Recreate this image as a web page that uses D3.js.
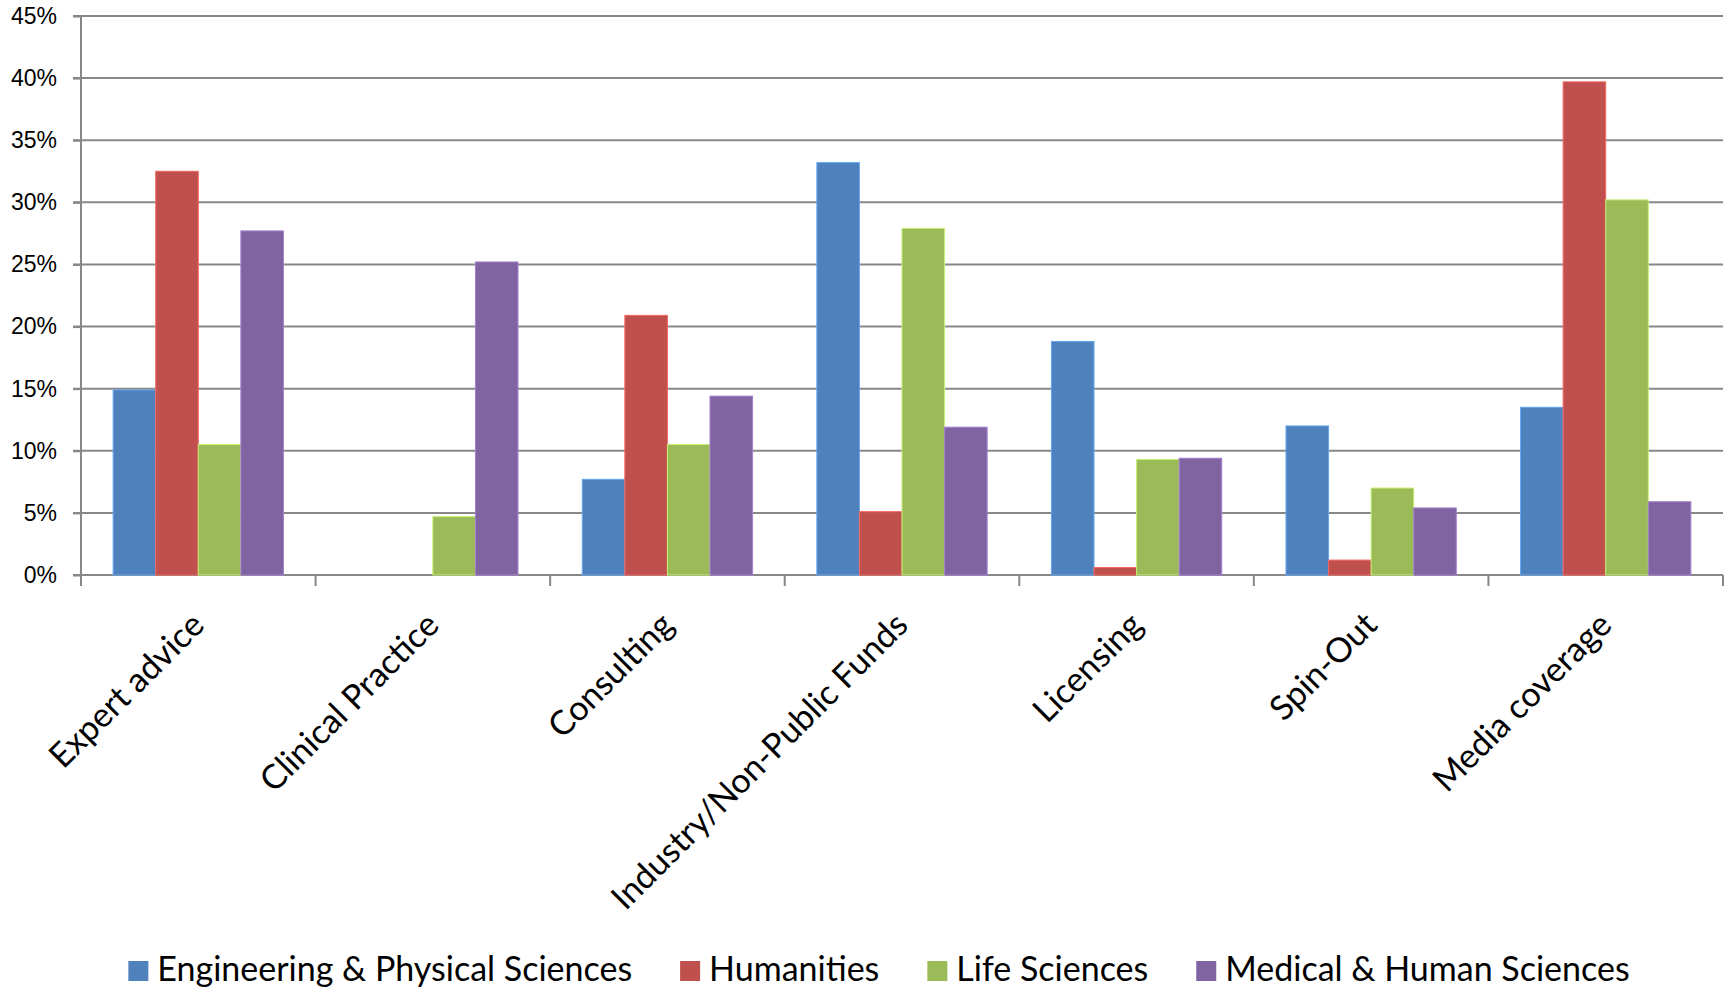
<!DOCTYPE html>
<html>
<head>
<meta charset="utf-8">
<script src="https://cdn.jsdelivr.net/npm/d3@7/dist/d3.min.js"></script>
<style>
  body { margin: 0; background: #fff; }
  svg { display: block; font-family: Lato, "Open Sans", sans-serif; }
</style>
</head>
<body>
<div id="chart"></div>
<script>
// ---- data (shares of respondents, %) ----
const categories = ["Expert advice", "Clinical Practice", "Consulting", "Industry/Non-Public Funds",
                    "Licensing", "Spin-Out", "Media coverage"];
const seriesNames = ["Engineering & Physical Sciences", "Humanities", "Life Sciences", "Medical & Human Sciences"];
const engineering = [14.9, 0, 7.7, 33.2, 18.8, 12.0, 13.5];
const humanities  = [32.5, 0, 20.9, 5.1, 0.6, 1.2, 39.7];
const life        = [10.5, 4.7, 10.5, 27.9, 9.3, 7.0, 30.2];
const medical     = [27.7, 25.2, 14.4, 11.9, 9.4, 5.4, 5.9];
const yTicks = [0, 5, 10, 15, 20, 25, 30, 35, 40, 45];

const seriesValues = [engineering, humanities, life, medical];
const colors = ["#4F81BD", "#C0504D", "#9BBB59", "#8064A2"];

// ---- setup ----
const width = 1734, height = 991;
const margin = { top: 16, right: 11, bottom: 416, left: 81 };
const innerWidth = width - margin.left - margin.right;
const innerHeight = height - margin.top - margin.bottom;

const svg = d3.select("#chart").append("svg")
    .attr("width", width)
    .attr("height", height);

const chart = svg.append("g")
    .attr("transform", `translate(${margin.left},${margin.top})`);

// ---- scales ----
const x0 = d3.scaleBand()
    .domain(categories)
    .range([0, innerWidth])
    .paddingInner(0.274)
    .paddingOuter(0.137);

const x1 = d3.scaleBand()
    .domain(seriesNames)
    .range([0, x0.bandwidth()]);

const y = d3.scaleLinear()
    .domain([0, 45])
    .range([innerHeight, 0]);

const step = x0.step();
const gridColor = "#878787";

// ---- gridlines ----
chart.append("g")
    .selectAll("line")
    .data(yTicks)
    .join("line")
    .attr("x1", -8)
    .attr("x2", innerWidth)
    .attr("y1", d => y(d))
    .attr("y2", d => y(d))
    .attr("stroke", gridColor)
    .attr("stroke-width", 2);

// ---- bars ----
const groups = chart.append("g")
    .selectAll("g")
    .data(categories)
    .join("g")
    .attr("transform", d => `translate(${x0(d)},0)`);

groups.selectAll("rect")
    .data((c, i) => seriesNames.map((s, j) => ({ s, j, v: seriesValues[j][i] })))
    .join("rect")
    .filter(d => d.v > 0)
    .attr("x", d => x1(d.s))
    .attr("y", d => y(d.v))
    .attr("width", x1.bandwidth())
    .attr("height", d => innerHeight - y(d.v))
    .attr("fill", d => colors[d.j])
    .attr("stroke", d => d3.color(colors[d.j]).brighter(0.7))
    .attr("stroke-width", 1);

// ---- y axis ----
const yAxis = chart.append("g")
    .call(d3.axisLeft(y)
        .tickValues(yTicks)
        .tickSize(8)
        .tickPadding(16)
        .tickFormat(d => d + "%"));
yAxis.select(".domain").remove();
yAxis.selectAll(".tick line").attr("stroke", gridColor).attr("stroke-width", 2);
yAxis.selectAll(".tick text")
    .attr("fill", "#000")
    .style("font-size", "23px");

chart.append("line")
    .attr("x1", 0).attr("x2", 0)
    .attr("y1", 0).attr("y2", innerHeight + 11)
    .attr("stroke", gridColor)
    .attr("stroke-width", 2);

// ---- x axis ticks (category boundaries) ----
chart.append("g")
    .selectAll("line")
    .data(d3.range(categories.length + 1))
    .join("line")
    .attr("x1", i => i * step)
    .attr("x2", i => i * step)
    .attr("y1", innerHeight)
    .attr("y2", innerHeight + 11)
    .attr("stroke", gridColor)
    .attr("stroke-width", 2);

// ---- category labels ----
chart.append("g")
    .selectAll("text")
    .data(categories)
    .join("text")
    .attr("transform", d => `translate(${x0(d) + x0.bandwidth() / 2 + 8},${innerHeight + 52}) rotate(-45)`)
    .attr("text-anchor", "end")
    .attr("fill", "#000")
    .style("font-size", "34px")
    .text(d => d);

// ---- legend ----
const legend = svg.append("g");
let lx = 0;
seriesNames.forEach((name, i) => {
    const g = legend.append("g").attr("transform", `translate(${lx},0)`);
    g.append("rect")
        .attr("x", 0)
        .attr("y", 961)
        .attr("width", 20)
        .attr("height", 20)
        .attr("fill", colors[i]);
    const t = g.append("text")
        .attr("x", 29)
        .attr("y", 981)
        .attr("fill", "#000")
        .style("font-size", "34px")
        .text(name);
    lx += 29 + t.node().getComputedTextLength() + 48;
});
const legendWidth = lx - 48;
legend.attr("transform", `translate(${879 - legendWidth / 2},0)`);
</script>
</body>
</html>
